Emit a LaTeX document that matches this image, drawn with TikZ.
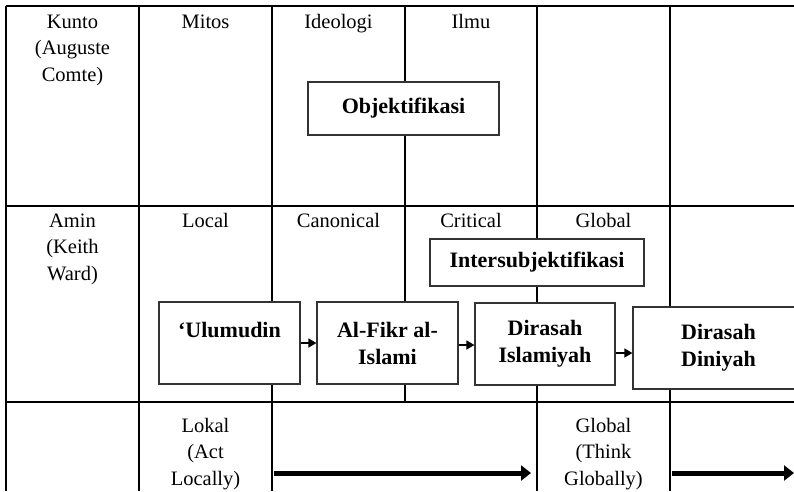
\documentclass[tikz,border=0pt]{standalone}
\usepackage{fontspec}
\setmainfont{Liberation Serif}
\usetikzlibrary{arrows.meta}
\begin{document}
\begin{tikzpicture}[
		x=1pt, y=-1pt,
		grid line/.style={line width=1.2pt},
		thick grid/.style={line width=2pt},
		cell text/.style={
			anchor=base, inner sep=0pt, align=center,
			font=\fontsize{20.5}{26.5}\selectfont,
		},
		concept box/.style={
			draw=black!80, line width=1.2pt, fill=white,
			inner sep=0pt, align=center,
			font=\fontsize{22}{27}\selectfont\bfseries,
		},
		step arrow/.style={line width=1.5pt, -{Triangle[length=8pt,width=9pt]}},
		flow arrow/.style={line width=5pt, -{Triangle[length=10pt,width=15pt]}},
	]
		\useasboundingbox (0,0) rectangle (794,491);
		\fill[white] (0,0) rectangle (794,491);

		\draw[grid line] (6,6) -- (794,6);
		\draw[grid line] (6,206) -- (794,206);
		\draw[thick grid] (6,402) -- (794,402);
		\foreach \x in {6,139,272,537,670}
			\draw[grid line] (\x,6) -- (\x,491);
		\draw[thick grid] (405,6) -- (405,402);

		\node[cell text] (kunto) at (72.5,81) {Kunto\\(Auguste\\Comte)};
		\node[cell text] (mitos) at (205.5,28) {Mitos};
		\node[cell text] (ideologi) at (338.5,28) {Ideologi};
		\node[cell text] (ilmu) at (471,28) {Ilmu};

		\node[cell text] (amin) at (72.5,280) {Amin\\(Keith\\Ward)};
		\node[cell text] (local) at (205.5,227) {Local};
		\node[cell text] (canonical) at (338.5,227) {Canonical};
		\node[cell text] (critical) at (471,227) {Critical};
		\node[cell text] (global) at (603.5,227) {Global};

		\node[cell text] (lokal) at (205.5,485) {Lokal\\(Act\\Locally)};
		\node[cell text] (globalb) at (603.5,485) {Global\\(Think\\Globally)};

		\node[concept box, minimum width=191pt, minimum height=53pt] (obj) at (403.5,108.5) {Objektifikasi};
		\node[concept box, minimum width=214pt, minimum height=47pt] (inter) at (537,262.5) {Intersubjektifikasi};

		\node[concept box, minimum width=141pt, minimum height=82pt] (ulum) at (229.5,343) {`Ulumudin\\\mbox{}};
		\node[concept box, minimum width=141pt, minimum height=82pt] (fikr) at (387.5,343) {Al-Fikr al-\\Islami};
		\node[concept box, minimum width=140pt, minimum height=82pt] (islam) at (545,344) {Dirasah\\Islamiyah};
		\node[concept box, minimum width=171pt, minimum height=82pt] (diniyah) at (718.5,348) {Dirasah\\Diniyah};

		\draw[step arrow] (ulum.east) -- (fikr.west);
		\draw[step arrow] ([yshift=-2pt]fikr.east) -- ([yshift=-2pt]fikr.east -| islam.west);
		\draw[step arrow] ([yshift=-9pt]islam.east) -- ([yshift=-9pt]islam.east -| diniyah.west);

		\coordinate (act start) at (274,473);
		\coordinate (act end) at (531,473);
		\coordinate (think start) at (672,473);
		\coordinate (think end) at (794,473);
		\draw[flow arrow] (act start) -- (act end);
		\draw[flow arrow] (think start) -- (think end);
	\end{tikzpicture}
\end{document}
